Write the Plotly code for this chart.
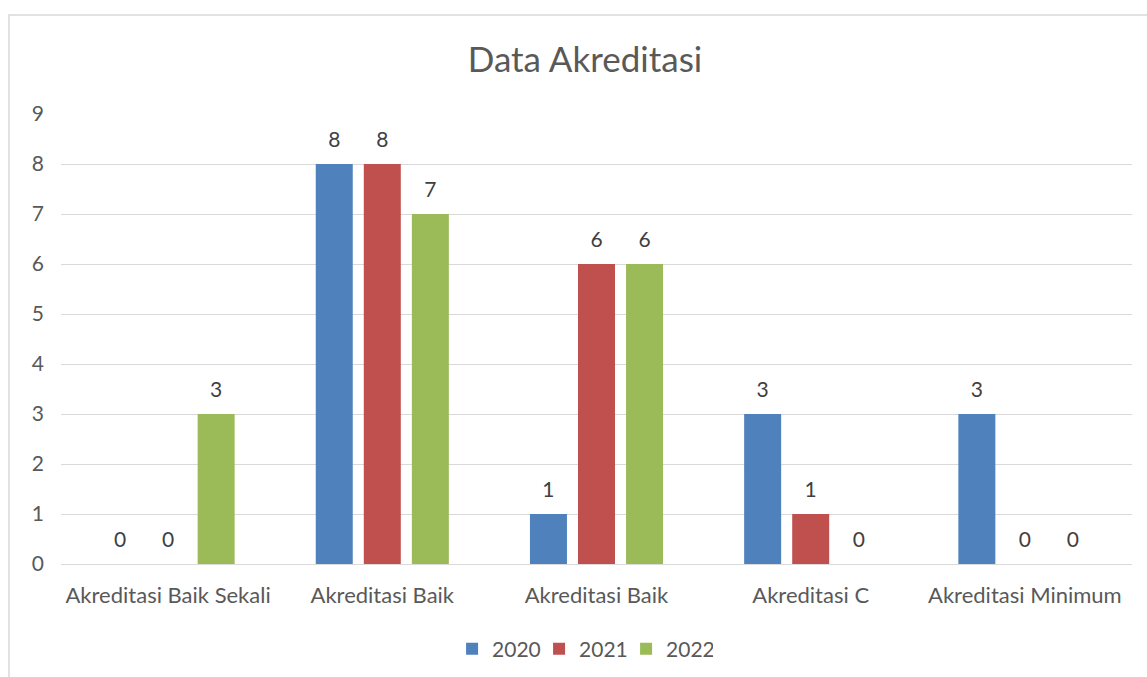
import plotly.graph_objects as go

categories = ["Akreditasi Baik Sekali", "Akreditasi Baik", "Akreditasi Baik", "Akreditasi C", "Akreditasi Minimum"]
years = ["2020", "2021", "2022"]
values_2020 = [0, 8, 1, 3, 3]
values_2021 = [0, 8, 6, 1, 0]
values_2022 = [3, 7, 6, 0, 0]
colors = ["#4F81BD", "#C0504D", "#9BBB59"]

positions = list(range(len(categories)))
FONT = "Lato, 'Open Sans', sans-serif"
LABEL_OFFSET = 0.52  # label centre distance above bar top, in axis units
LABEL_BOX = 0.9      # height of the invisible label holder, in axis units

fig = go.Figure()
for i, (name, vals, col) in enumerate(zip(years, [values_2020, values_2021, values_2022], colors)):
    fig.add_trace(go.Bar(
        x=positions, y=vals, name=name, offsetgroup=str(i),
        marker=dict(color=col, line=dict(width=0)), hoverinfo="x+y+name",
    ))
for i, (name, vals) in enumerate(zip(years, [values_2020, values_2021, values_2022])):
    fig.add_trace(go.Bar(
        x=positions, y=[LABEL_BOX] * len(vals),
        base=[v + LABEL_OFFSET - LABEL_BOX / 2 for v in vals],
        offsetgroup=str(i), showlegend=False, hoverinfo="skip",
        marker=dict(color="rgba(0,0,0,0)", line=dict(width=0)),
        text=[str(v) for v in vals], textposition="inside", insidetextanchor="middle",
        constraintext="none", textangle=0, cliponaxis=False,
        textfont=dict(size=21, color="#404040", family=FONT),
    ))

W, H = 1147, 677
L, R, T, B = 61, 15, 114, 113
pw, ph = W - L - R, H - T - B

fig.update_layout(
    width=W, height=H,
    margin=dict(l=L, r=R, t=T, b=B, autoexpand=False),
    paper_bgcolor="white", plot_bgcolor="white",
    barmode="group", bargap=0.327, bargroupgap=0.23,
    font=dict(family=FONT, color="#595959", size=22),
    title=dict(text="Data Akreditasi", x=0.51, xref="container", xanchor="center",
               y=1 - 60 / H, yref="container", yanchor="middle",
               font=dict(size=35, color="#595959", family=FONT)),
    xaxis=dict(tickmode="array", tickvals=positions, ticktext=categories,
               range=[-0.5, len(categories) - 0.5], showgrid=False, zeroline=False,
               showline=True, linecolor="#d9d9d9", linewidth=1, ticks="", automargin=False,
               ticklabelstandoff=12, tickfont=dict(size=22, color="#595959")),
    yaxis=dict(range=[0, 9], dtick=1, showgrid=True, gridcolor="#d9d9d9", gridwidth=1,
               zeroline=False, showline=False, ticks="", ticklabelstandoff=16, automargin=False,
               tickfont=dict(size=21, color="#595959")),
    legend=dict(orientation="h", x=0.487, xanchor="center", y=-(649 - 564) / ph, yanchor="middle",
                font=dict(size=21, color="#595959"), itemwidth=30, traceorder="normal",
                entrywidth=42, entrywidthmode="pixels"),
    showlegend=True,
)

fig.add_shape(type="rect", xref="paper", yref="paper",
              x0=(9 - L) / pw, x1=1.2, y0=-0.6, y1=1 + (T - 15) / ph,
              line=dict(color="#d9d9d9", width=1.5), fillcolor="rgba(0,0,0,0)", layer="below")

fig.write_html("out.html", post_script="document.body.style.margin='0';",
               config={"displayModeBar": False})
